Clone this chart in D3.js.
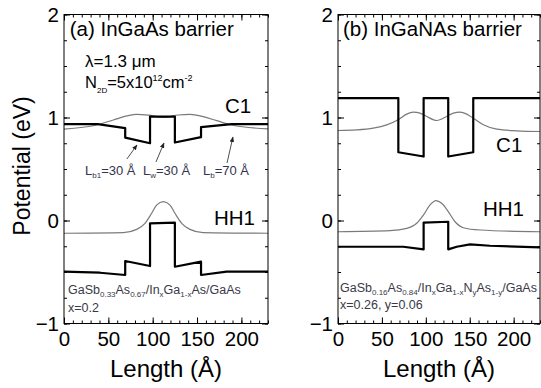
<!DOCTYPE html>
<html>
<head>
<meta charset="utf-8">
<script src="https://cdn.jsdelivr.net/npm/d3@7"></script>
<style>
  body { margin: 0; background: #fff; }
  svg { display: block; font-family: Arial, "Liberation Sans", sans-serif; }
</style>
</head>
<body>
<svg id="chart" width="541" height="388"></svg>
<script>
// axis ticks
var xMajor = [0, 50, 100, 150, 200];
var yMajor = [-1, 0, 1, 2];

// (a) InGaAs barrier -- band edges (eV) against length (A)
var lenCbA = [0, 38, 69, 69, 97, 97, 125, 125, 154.5, 154.5, 189, 230];
var cbA    = [0.935, 0.935, 0.896, 0.805, 0.750, 1.009, 1.009, 0.757, 0.809, 0.906, 0.935, 0.935];
var lenVbA = [0, 40.6, 69, 69, 97, 97, 125, 125, 154.5, 154.5, 183.4, 230];
var vbA    = [-0.497, -0.507, -0.529, -0.393, -0.442, -0.027, -0.021, -0.449, -0.400, -0.529, -0.497, -0.497];
// (a) wavefunctions
var lenC1A = [0, 36.8, 55.6, 70.7, 82, 95, 112, 128.9, 142, 157, 172.2, 189, 230];
var c1A    = [0.888, 0.927, 0.976, 1.015, 1.031, 1.024, 1.002, 1.024, 1.031, 1.008, 0.969, 0.927, 0.889];
var lenHhA = [0, 66.9, 81.9, 91.3, 98.8, 104.4, 112, 119.5, 125.1, 132.7, 142, 157, 230];
var hhA    = [-0.124, -0.118, -0.086, -0.027, 0.070, 0.150, 0.183, 0.150, 0.070, -0.027, -0.086, -0.118, -0.124];

// (b) InGaNAs barrier -- band edges
var lenCbB = [0, 68.7, 68.7, 97.5, 97.5, 125.5, 125.5, 154, 154, 230];
var cbB    = [1.189, 1.189, 0.663, 0.621, 1.189, 1.189, 0.621, 0.663, 1.189, 1.189];
var lenVbB = [0, 74.4, 97.5, 97.5, 125.5, 125.5, 135.2, 150.3, 173.1, 230];
var vbB    = [-0.255, -0.255, -0.280, -0.021, -0.012, -0.280, -0.255, -0.232, -0.245, -0.260];
// (b) wavefunctions
var lenC1B = [0, 21.3, 40.2, 55.4, 69.5, 78.2, 85.8, 93.4, 101, 112.4, 123.8, 131.3, 139, 146.6, 154.9, 165.5, 180.7, 203.5, 230];
var c1B    = [0.874, 0.880, 0.897, 0.929, 0.984, 1.033, 1.052, 1.043, 1.010, 0.971, 1.010, 1.043, 1.052, 1.033, 0.987, 0.929, 0.887, 0.871, 0.864];
var lenHhB = [0, 59.2, 78.2, 89.6, 97.2, 104.8, 111.6, 118.1, 125.6, 133.3, 142.7, 161.7, 230];
var hhB    = [-0.109, -0.099, -0.076, -0.027, 0.053, 0.151, 0.193, 0.167, 0.086, -0.012, -0.070, -0.092, -0.109];

var svg = d3.select("#chart");
var plotTop = 14.5, plotBottom = 323.5;

svg.append("defs").append("marker")
  .attr("id", "arrow")
  .attr("viewBox", "0 0 10 10")
  .attr("refX", 9).attr("refY", 5)
  .attr("markerWidth", 7).attr("markerHeight", 7)
  .attr("orient", "auto")
  .append("path")
  .attr("d", "M0,1 L10,5 L0,9 Z")
  .attr("fill", "#222");

function drawPanel(id, left, right, bands, waves) {
  var x = d3.scaleLinear().domain([0, 230]).range([left, right]);
  var y = d3.scaleLinear().domain([-1, 2]).range([plotBottom, plotTop]);
  var g = svg.append("g");

  g.append("clipPath").attr("id", "clip" + id)
    .append("rect")
    .attr("x", left).attr("y", plotTop)
    .attr("width", right - left).attr("height", plotBottom - plotTop);

  var plot = g.append("g").attr("clip-path", "url(#clip" + id + ")");

  // thin grey wavefunctions
  waves.forEach(function (w) {
    plot.append("path")
      .datum(d3.zip(w[0], w[1]))
      .attr("fill", "none")
      .attr("stroke", "#7a7a7a")
      .attr("stroke-width", 1.2)
      .attr("d", d3.line()
        .curve(d3.curveMonotoneX)
        .x(function (d) { return x(d[0]); })
        .y(function (d) { return y(d[1]); }));
  });

  // thick black band edges
  bands.forEach(function (b) {
    plot.append("path")
      .datum(d3.zip(b[0], b[1]))
      .attr("fill", "none")
      .attr("stroke", "#000")
      .attr("stroke-width", 2.2)
      .attr("stroke-linejoin", "round")
      .attr("d", d3.line()
        .x(function (d) { return x(d[0]); })
        .y(function (d) { return y(d[1]); }));
  });

  // ticks on all four sides, pointing inwards
  var xMinor = d3.range(0, 231, 10);
  var yMinor = d3.range(-1, 2.01, 0.25);

  g.append("g").attr("transform", "translate(0," + plotBottom + ")")
    .call(d3.axisBottom(x).tickValues(xMinor).tickSize(-3).tickSizeOuter(0).tickFormat(""));
  g.append("g").attr("transform", "translate(0," + plotBottom + ")")
    .call(d3.axisBottom(x).tickValues(xMajor).tickSize(-6).tickSizeOuter(0).tickPadding(8).tickFormat(d3.format("d")));
  g.append("g").attr("transform", "translate(0," + plotTop + ")")
    .call(d3.axisTop(x).tickValues(xMinor).tickSize(-3).tickSizeOuter(0).tickFormat(""));
  g.append("g").attr("transform", "translate(0," + plotTop + ")")
    .call(d3.axisTop(x).tickValues(xMajor).tickSize(-6).tickSizeOuter(0).tickFormat(""));

  g.append("g").attr("transform", "translate(" + left + ",0)")
    .call(d3.axisLeft(y).tickValues(yMinor).tickSize(-3).tickSizeOuter(0).tickFormat(""));
  g.append("g").attr("transform", "translate(" + left + ",0)")
    .call(d3.axisLeft(y).tickValues(yMajor).tickSize(-6).tickSizeOuter(0).tickPadding(5).tickFormat(d3.format("d")));
  g.append("g").attr("transform", "translate(" + right + ",0)")
    .call(d3.axisRight(y).tickValues(yMinor).tickSize(-3).tickSizeOuter(0).tickFormat(""));
  g.append("g").attr("transform", "translate(" + right + ",0)")
    .call(d3.axisRight(y).tickValues(yMajor).tickSize(-6).tickSizeOuter(0).tickFormat(""));

  g.selectAll(".domain").remove();
  g.selectAll(".tick line").attr("stroke", "#000");
  g.selectAll(".tick text")
    .attr("fill", "#000")
    .attr("font-size", 20.5)
    .attr("font-family", "Arial, 'Liberation Sans', sans-serif");

  g.append("rect")
    .attr("x", left).attr("y", plotTop)
    .attr("width", right - left).attr("height", plotBottom - plotTop)
    .attr("fill", "none").attr("stroke", "#000").attr("stroke-width", 1);

  g.append("text")
    .attr("x", (left + right) / 2).attr("y", 377)
    .attr("text-anchor", "middle")
    .attr("font-size", 24)
    .text("Length (\u00c5)");

  return { x: x, y: y, g: g };
}

var a = drawPanel("a", 64, 268,
  [[lenCbA, cbA], [lenVbA, vbA]],
  [[lenC1A, c1A], [lenHhA, hhA]]);
var b = drawPanel("b", 338, 540,
  [[lenCbB, cbB], [lenVbB, vbB]],
  [[lenC1B, c1B], [lenHhB, hhB]]);

svg.append("text")
  .attr("transform", "translate(30,166) rotate(-90)")
  .attr("text-anchor", "middle")
  .attr("font-size", 23)
  .text("Potential (eV)");

// ---- panel (a) annotations
function label(p, xv, yv, size, txt, fill) {
  return p.g.append("text")
    .attr("x", p.x(xv)).attr("y", p.y(yv))
    .attr("font-size", size)
    .attr("fill", fill || "#000")
    .text(txt);
}

label(a, 6.5, 1.79, 20.5, "(a) InGaAs barrier");
label(a, 23.7, 1.49, 17, "\u03bb=1.3 \u03bcm");
var n2d = label(a, 23.7, 1.286, 16.5, "N");
n2d.append("tspan").attr("font-size", 8).attr("dy", 5).text("2D");
n2d.append("tspan").attr("dy", -5).text("=5x10");
n2d.append("tspan").attr("font-size", 9).attr("dy", -7).text("12");
n2d.append("tspan").attr("dy", 7).text("cm");
n2d.append("tspan").attr("font-size", 9).attr("dy", -7).text("-2");
label(a, 181.5, 1.044, 20.5, "C1");
label(a, 169, -0.044, 20.5, "HH1");

var lColor = "#33334d";
[[23.7, "b1", "=30 \u00c5"], [89, "w", "=30 \u00c5"], [156.7, "b", "=70 \u00c5"]].forEach(function (d) {
  var t = label(a, d[0], 0.442, 13, "L", lColor);
  t.append("tspan").attr("font-size", 8).attr("dy", 3).text(d[1]);
  t.append("tspan").attr("dy", -3).text(d[2]);
});

[[70.9, 0.597, 82.3, 0.733], [103.7, 0.568, 112.7, 0.752], [183.8, 0.558, 190.5, 0.811]].forEach(function (d) {
  a.g.append("line")
    .attr("x1", a.x(d[0])).attr("y1", a.y(d[1]))
    .attr("x2", a.x(d[2])).attr("y2", a.y(d[3]))
    .attr("stroke", "#222").attr("stroke-width", 0.8)
    .attr("marker-end", "url(#arrow)");
});

var cColor = "#3a3a48";
var compA = label(a, 4.5, -0.714, 12.5, "GaSb", cColor);
compA.append("tspan").attr("font-size", 8).attr("dy", 3).text("0.33");
compA.append("tspan").attr("dy", -3).text("As");
compA.append("tspan").attr("font-size", 8).attr("dy", 3).text("0.67");
compA.append("tspan").attr("dy", -3).text("/In");
compA.append("tspan").attr("font-size", 8).attr("dy", 3).text("x");
compA.append("tspan").attr("dy", -3).text("Ga");
compA.append("tspan").attr("font-size", 8).attr("dy", 3).text("1-x");
compA.append("tspan").attr("dy", -3).text("As/GaAs");
label(a, 4.5, -0.888, 12.5, "x=0.2", cColor);

// ---- panel (b) annotations
label(b, 5.7, 1.79, 20.5, "(b) InGaNAs barrier");
label(b, 180, 0.665, 20.5, "C1");
label(b, 165, 0.044, 20.5, "HH1");

var compB = label(b, 2.3, -0.694, 12.5, "GaSb", cColor);
compB.append("tspan").attr("font-size", 8).attr("dy", 3).text("0.16");
compB.append("tspan").attr("dy", -3).text("As");
compB.append("tspan").attr("font-size", 8).attr("dy", 3).text("0.84");
compB.append("tspan").attr("dy", -3).text("/In");
compB.append("tspan").attr("font-size", 8).attr("dy", 3).text("x");
compB.append("tspan").attr("dy", -3).text("Ga");
compB.append("tspan").attr("font-size", 8).attr("dy", 3).text("1-x");
compB.append("tspan").attr("dy", -3).text("N");
compB.append("tspan").attr("font-size", 8).attr("dy", 3).text("y");
compB.append("tspan").attr("dy", -3).text("As");
compB.append("tspan").attr("font-size", 8).attr("dy", 3).text("1-y");
compB.append("tspan").attr("dy", -3).text("/GaAs");
label(b, 2.3, -0.859, 12.5, "x=0.26, y=0.06", cColor);
</script>
</body>
</html>
